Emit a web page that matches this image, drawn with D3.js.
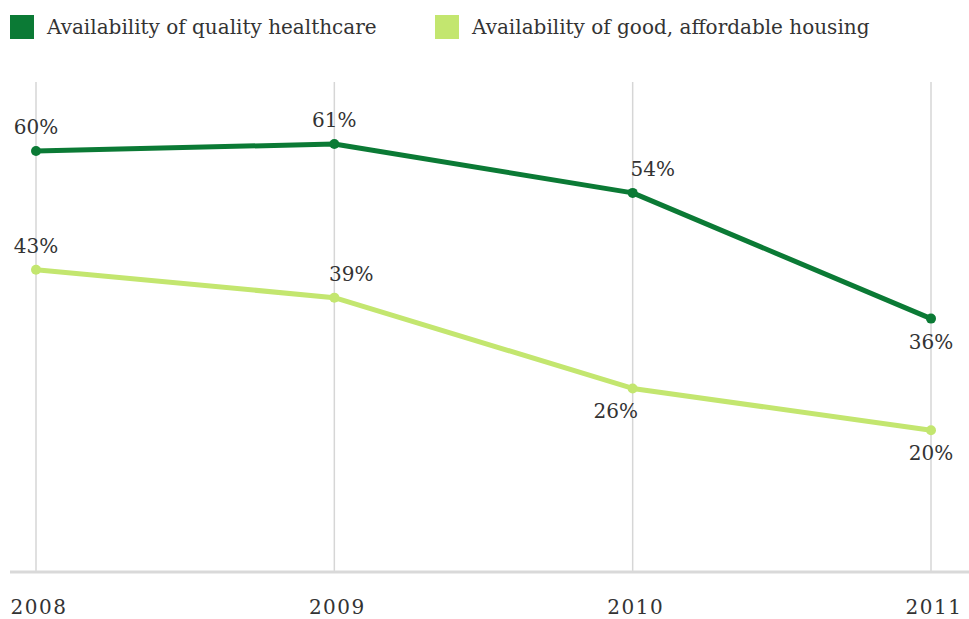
<!DOCTYPE html>
<html>
<head>
<meta charset="utf-8">
<script src="https://cdn.jsdelivr.net/npm/d3@7"></script>
<style>
  body { margin: 0; background: #fff; }
  text { font-family: 'DejaVu Serif', 'Liberation Serif', serif; fill: #333; }
</style>
</head>
<body>
<script>
'use strict'

const years = ['2008', '2009', '2010', '2011']
const healthcare = [60, 61, 54, 36]
const housing = [43, 39, 26, 20]
const seriesNames = ['Availability of quality healthcare', 'Availability of good, affordable housing']
const colors = ['#0b7a35', '#c3e66f']

const width = 969
const height = 619

// label offsets [dx, dy] relative to point, per series
const healthLabelPos = [[0, -17], [0, -17], [20, -17], [0, 30]]
const housingLabelPos = [[0, -17], [17, -17], [-17, 30], [0, 30]]

const svg = d3.select('body').append('svg')
    .attr('width', width)
    .attr('height', height)

const x = d3.scalePoint().domain(years).range([36, 931])
const y = d3.scaleLinear().domain([0, 61]).range([570, 144])

// vertical gridlines
svg.append('g')
    .selectAll('line')
    .data(years)
    .enter()
    .append('line')
    .attr('x1', d => x(d))
    .attr('x2', d => x(d))
    .attr('y1', 82)
    .attr('y2', 572)
    .style('stroke', '#d6d6d6')
    .attr('stroke-width', 1.5)

// baseline
svg.append('line')
    .attr('x1', 10).attr('x2', width)
    .attr('y1', 572).attr('y2', 572)
    .style('stroke', '#d9d9d9')
    .attr('stroke-width', 3)

// x labels
svg.append('g')
    .selectAll('text')
    .data(years)
    .enter()
    .append('text')
    .attr('x', d => x(d) + 3)
    .attr('y', 614)
    .attr('text-anchor', 'middle')
    .style('font-size', '20px')
    .style('letter-spacing', '1.5px')
    .text(d => d)

const line = d3.line()
    .x((d, i) => x(years[i]))
    .y(d => y(d))

function drawSeries(values, color, labelPos) {
    svg.append('path')
        .datum(values)
        .attr('d', line)
        .attr('fill', 'none')
        .style('stroke', color)
        .attr('stroke-width', 5)
        .attr('stroke-linejoin', 'round')

    svg.append('g')
        .selectAll('circle')
        .data(values)
        .enter()
        .append('circle')
        .attr('cx', (d, i) => x(years[i]))
        .attr('cy', d => y(d))
        .attr('r', 5)
        .attr('fill', color)

    svg.append('g')
        .selectAll('text')
        .data(values)
        .enter()
        .append('text')
        .attr('x', (d, i) => x(years[i]) + labelPos[i][0])
        .attr('y', (d, i) => y(d) + labelPos[i][1])
        .attr('text-anchor', 'middle')
        .style('font-size', '20px')
        .text(d => d + '%')
}

drawSeries(housing, colors[1], housingLabelPos)
drawSeries(healthcare, colors[0], healthLabelPos)

// legend
const legendX = [10, 435]
const legend = svg.append('g')
    .selectAll('g')
    .data(seriesNames)
    .enter()
    .append('g')
    .attr('transform', (d, i) => `translate(${legendX[i]},15)`)

legend.append('rect')
    .attr('width', 24)
    .attr('height', 24)
    .attr('fill', (d, i) => colors[i])

legend.append('text')
    .attr('x', 37)
    .attr('y', 19)
    .style('font-size', '20px')
    .text(d => d)
</script>
</body>
</html>
